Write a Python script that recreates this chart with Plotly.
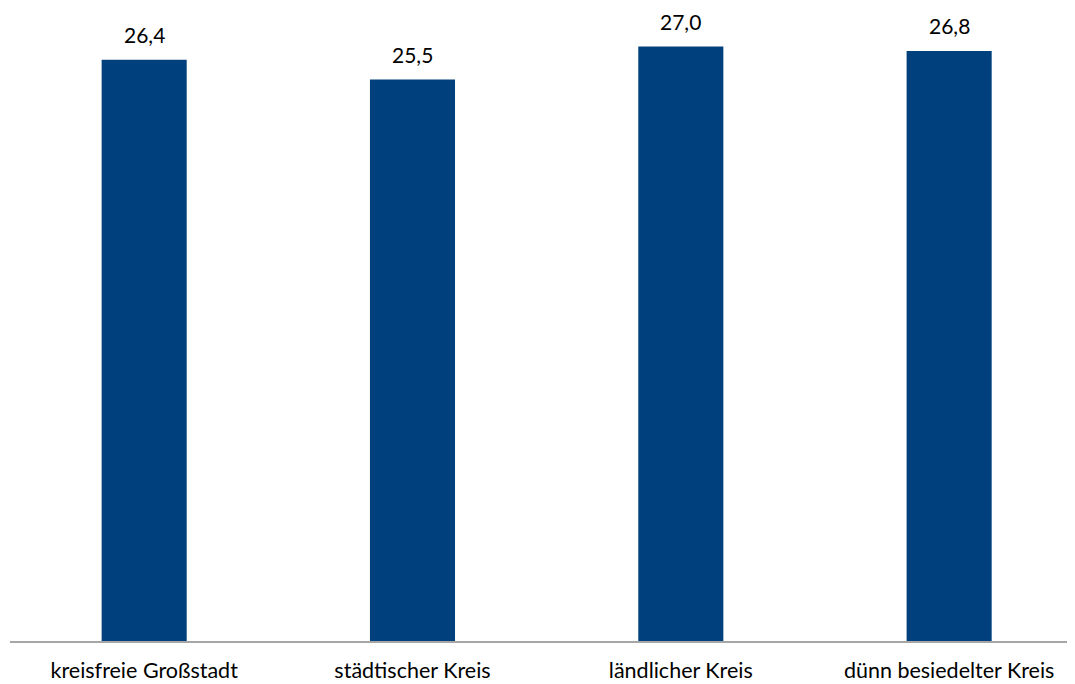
import plotly.graph_objects as go

categories = ["kreisfreie Großstadt", "städtischer Kreis", "ländlicher Kreis", "dünn besiedelter Kreis"]
values = [26.4, 25.5, 27.0, 26.8]
value_labels = ["26,4", "25,5", "27,0", "26,8"]

BAR_COLOR = "#00407C"
FONT = "Lato"

fig = go.Figure()
fig.add_trace(go.Bar(x=categories, y=values, marker=dict(color=BAR_COLOR, line=dict(width=0)),
                     hoverinfo="skip"))

for c, v, t in zip(categories, values, value_labels):
    fig.add_annotation(x=c, y=v, text=t, showarrow=False, yanchor="bottom", yshift=11,
                       font=dict(family=FONT, size=21, color="#000000"))

fig.update_layout(
    width=1067, height=676,
    margin=dict(l=2, r=0, t=0, b=43),
    plot_bgcolor="white", paper_bgcolor="white",
    bargap=0.683,
    showlegend=False,
    font=dict(family=FONT, size=21, color="#000000"),
    xaxis=dict(range=[-0.5, 3.469], showline=True, linecolor="#A6A6A6", linewidth=2,
               ticks="outside", ticklen=9, tickcolor="rgba(0,0,0,0)",
               tickfont=dict(family=FONT, size=21.5, color="#000000"), showgrid=False),
    yaxis=dict(range=[0, 28.75], visible=False, showgrid=False, zeroline=False),
)

fig.write_html("out.html")
